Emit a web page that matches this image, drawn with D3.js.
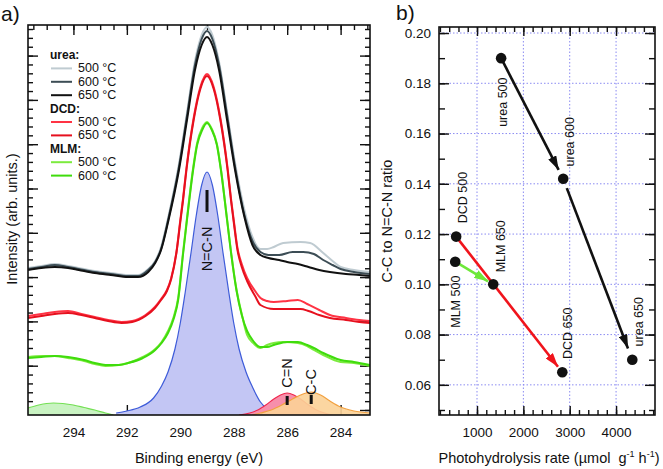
<!DOCTYPE html>
<html><head><meta charset="utf-8">
<script src="https://cdn.jsdelivr.net/npm/d3@7"></script>
<style>body{margin:0;background:#fff}svg{display:block}text{font-family:"Liberation Sans",Arial,Helvetica,sans-serif}</style>
</head><body><svg id="c" width="663" height="469"></svg>
<script>
// ---------- Panel a data : [binding energy (eV), intensity (arb.)] ----------
const energyTicks = [294, 292, 290, 288, 286, 284];
const urea500 = [[295.7,147],[295.2,149],[294.7,151],[294.2,149],[293.8,147],[293.2,144],[292.6,142],[291.95,140],[291.58,140],[291.2,146],[290.94,154],[290.72,168],[290.44,199],[290.05,251],[289.75,302],[289.45,354],[289.2,380],[289.0,388],[288.8,380],[288.55,353],[288.25,303],[287.95,252],[287.6,205],[287.3,178],[287.0,166],[286.75,166],[286.5,168],[286.15,172],[285.5,173],[285.14,172],[284.65,162],[284.3,154],[284.0,148],[283.5,145],[282.9,143]];
const urea600 = [[295.7,146],[295.2,148],[294.7,150],[294.2,148],[293.8,146],[293.2,143],[292.6,141],[291.95,139],[291.58,139],[291.2,145],[290.94,153],[290.72,166],[290.44,197],[290.05,248],[289.75,299],[289.45,350],[289.2,376],[289.0,384],[288.8,376],[288.55,350],[288.25,300],[287.95,248],[287.6,200],[287.3,174],[287.0,163],[286.7,160],[286.3,160],[285.8,163],[285.4,163],[285.0,161],[284.65,155],[284.3,150],[284.0,146],[283.5,143],[282.9,141]];
const urea650 = [[295.7,145],[295.2,147],[294.7,148],[294.2,147],[293.8,145],[293.2,142],[292.6,140],[291.95,138],[291.58,138],[291.2,143],[290.94,152],[290.72,165],[290.44,195],[290.05,245],[289.75,295],[289.45,345],[289.2,370],[289.0,378],[288.8,370],[288.55,345],[288.25,295],[287.95,245],[287.6,198],[287.3,170],[287.0,160],[286.7,157],[286.3,155],[286.0,153],[285.6,151],[285.2,148],[284.8,145],[284.4,143],[283.8,141],[283.3,140],[282.9,139]];
const dcd500 = [[295.7,99],[295.2,101],[294.7,103],[294.2,104],[293.7,101],[293.2,98],[292.7,95],[292.2,93],[291.8,94],[291.3,100],[290.95,108],[290.72,116],[290.5,125],[290.34,137],[290.14,164],[290.0,195],[289.9,216],[289.77,247],[289.5,297],[289.25,328],[289.0,341],[288.75,328],[288.5,297],[288.23,247],[288.1,216],[288.0,195],[287.86,167],[287.7,151],[287.5,137],[287.2,124],[287.0,117],[286.75,114],[286.5,113],[286.0,114],[285.6,115],[285.25,111],[284.8,105],[284.4,100],[283.8,97],[283.3,95],[282.9,94]];
const dcd650 = [[295.7,97],[295.2,99],[294.7,101],[294.2,102],[293.7,100],[293.2,97],[292.7,94],[292.2,92],[291.8,93],[291.3,99],[290.95,107],[290.72,115],[290.5,124],[290.34,136],[290.14,163],[290.0,193],[289.9,214],[289.77,245],[289.5,295],[289.25,326],[289.0,339],[288.75,326],[288.5,295],[288.23,245],[288.1,214],[288.0,193],[287.86,165],[287.7,148],[287.5,134],[287.2,119],[287.0,110],[286.5,106],[286.0,106],[285.5,106],[285.2,104],[284.8,100],[284.4,97],[283.8,95],[283.3,93],[282.9,92]];
const mlm500 = [[295.7,58],[295.2,59],[294.7,59],[294.2,57],[293.6,54],[293.2,51],[292.8,49],[292.3,50],[291.95,52],[291.4,58],[290.94,66],[290.7,73],[290.46,84],[290.25,98],[290.08,117],[289.9,162],[289.75,197],[289.52,247],[289.37,272],[289.18,287],[289.0,293],[288.82,286],[288.63,271],[288.48,246],[288.25,196],[288.1,163],[287.9,126],[287.7,101],[287.5,80],[287.27,72],[287.0,67],[286.75,70],[286.5,72],[286.15,73],[285.6,72],[285.25,69],[285.0,65],[284.65,60],[284.0,53],[283.5,52],[282.9,49]];
const mlm600 = [[295.7,57],[295.2,58],[294.7,59],[294.2,58],[293.6,55],[293.2,52],[292.8,50],[292.3,50],[291.95,52],[291.4,57],[290.94,65],[290.7,72],[290.46,82],[290.25,96],[290.08,115],[289.9,160],[289.75,195],[289.52,245],[289.37,270],[289.18,285],[289.0,292],[288.82,285],[288.63,270],[288.48,245],[288.25,195],[288.1,162],[287.9,125],[287.7,100],[287.5,84],[287.27,74],[287.0,68],[286.75,68],[286.5,70],[286.0,73],[285.6,73],[285.25,70],[285.0,67],[284.65,62],[284.0,55],[283.5,53],[282.9,50]];
// fit components
const fitNCN = [[292.4,2],[292.0,4],[291.5,8],[291.0,17],[290.7,29],[290.46,43],[290.2,66],[290.0,92],[289.82,122],[289.6,162],[289.4,200],[289.2,230],[289.0,243],[288.8,230],[288.6,200],[288.4,162],[288.18,122],[288.0,92],[287.8,66],[287.54,43],[287.3,28],[287.0,13],[286.7,5],[286.5,1]];
const fitCN = [[287.8,0],[287.4,2],[287.1,5],[286.8,10],[286.5,16],[286.25,20],[286.0,22],[285.75,20],[285.5,16],[285.2,10],[284.9,5],[284.6,2],[284.3,0]];
const fitCC = [[287.3,0],[287.0,2],[286.6,5],[286.2,10],[285.8,16],[285.5,20],[285.1,23],[284.75,20],[284.4,14],[284.0,8],[283.5,4],[282.9,2]];
const fitSat = [[295.7,7],[295.3,10],[295.0,11.5],[294.75,12],[294.4,11.5],[294.0,10],[293.6,7.5],[293.2,5],[292.8,2],[292.5,0]];
const peakNames = ["N=C-N", "C=N", "C-C"];
const peakPos = [289.0, 286.0, 285.1];
const peakHeight = [243, 22, 23];

// ---------- Panel b data ----------
const sampleNames = ["urea 500","urea 600","urea 650","DCD 500","DCD 650","MLM 500","MLM 650"];
const rates = [1520, 2860, 4350, 550, 2840, 530, 1350];
const ratios = [0.190, 0.142, 0.070, 0.119, 0.065, 0.109, 0.100];
const rateTicks = [1000, 2000, 3000, 4000];
const ratioTicks = [0.06, 0.08, 0.10, 0.12, 0.14, 0.16, 0.18, 0.20];
const arrowFrom = [0, 1, 3, 5];
const arrowTo = [1, 2, 4, 6];

const svg = d3.select("#c");
const defs = svg.append("defs");

// ================= PANEL A =================
const A = {l:28, r:370, t:25, b:415};
const xA = d3.scaleLinear().domain([295.7, 282.9]).range([A.l, A.r]);
const yA = d3.scaleLinear().domain([0, 390]).range([A.b, A.t]);
defs.append("clipPath").attr("id","clipA").append("rect")
  .attr("x",A.l).attr("y",A.t).attr("width",A.r-A.l).attr("height",A.b-A.t);
const gA = svg.append("g");

// ticks (inward)
const minorE = d3.range(283, 296, 0.5).filter(v => v > 282.9 && v < 295.7);
gA.append("g").attr("transform",`translate(0,${A.t})`)
  .call(d3.axisTop(xA).tickValues(minorE).tickSize(-5).tickFormat(""))
  .call(g=>g.select(".domain").remove());
gA.append("g").attr("transform",`translate(0,${A.t})`)
  .call(d3.axisTop(xA).tickValues(energyTicks).tickSize(-10).tickFormat(""))
  .call(g=>g.select(".domain").remove());
gA.append("g").attr("transform",`translate(0,${A.b})`)
  .call(d3.axisBottom(xA).tickValues(energyTicks).tickSize(-10).tickPadding(12).tickFormat(d3.format("d")))
  .call(g=>g.select(".domain").remove())
  .call(g=>g.selectAll("text").attr("font-size",13.5).attr("fill","#111").style("font-family",'"Liberation Sans",Arial,sans-serif'));
const yMinor = d3.range(5, 390, 8.86);
const yMajor = d3.range(5, 390, 44.3);
[[d3.axisLeft, A.l], [d3.axisRight, A.r]].forEach(([fn, xx]) => {
  gA.append("g").attr("transform",`translate(${xx},0)`)
    .call(fn(yA).tickValues(yMinor).tickSize(-5).tickFormat("")).call(g=>g.select(".domain").remove());
  gA.append("g").attr("transform",`translate(${xx},0)`)
    .call(fn(yA).tickValues(yMajor).tickSize(-10).tickFormat("")).call(g=>g.select(".domain").remove());
});
gA.selectAll(".tick line").attr("stroke","#111").attr("stroke-width",1.4);

const plotA = gA.append("g").attr("clip-path","url(#clipA)");
const area = d3.area().x(d=>xA(d[0])).y0(yA(0)).y1(d=>yA(d[1])).curve(d3.curveMonotoneX);
const line = d3.line().x(d=>xA(d[0])).y(d=>yA(d[1])).curve(d3.curveMonotoneX);

const fits = [
  {d: fitSat, fill:"#c9f3c2", stroke:"#74e054"},
  {d: fitNCN, fill:"#c3c6f4", stroke:"#3d5bd9"},
  {d: fitCN,  fill:"#f78fab", stroke:"#f0284e"},
  {d: fitCC,  fill:"#fbd197", stroke:"#f2a140", op:0.9}
];
fits.forEach(f => {
  plotA.append("path").datum(f.d).attr("d",area).attr("fill",f.fill).attr("fill-opacity",f.op||1);
  plotA.append("path").datum(f.d).attr("d",line).attr("fill","none").attr("stroke",f.stroke).attr("stroke-width",1.2);
});
// peak markers + labels
peakPos.forEach((p,i) => {
  const yTop = i===0 ? yA(peakHeight[i]) + 18 : yA(peakHeight[i]) + 3;
  const len = i===0 ? 22 : 9;
  plotA.append("line").attr("x1",xA(p)).attr("x2",xA(p)).attr("y1",yTop).attr("y2",yTop+len)
    .attr("stroke","#111").attr("stroke-width",3);
});
const lblY = [249, 373, 382];
peakNames.forEach((n,i) => {
  gA.append("text").attr("transform",`translate(${xA(peakPos[i])},${lblY[i]}) rotate(-90)`)
    .attr("text-anchor","middle").attr("dominant-baseline","central")
    .attr("font-size",14.5).attr("fill","#111").text(n);
});

const spectra = [
  {d: urea500, c:"#bfcbd1"},
  {d: urea600, c:"#3c4d55"},
  {d: urea650, c:"#111111"},
  {d: dcd500,  c:"#ff3344"},
  {d: dcd650,  c:"#e6101e"},
  {d: mlm500,  c:"#7ceb3e"},
  {d: mlm600,  c:"#3fdc0c"}
];
spectra.forEach(s => {
  plotA.append("path").datum(s.d).attr("d",line).attr("fill","none")
    .attr("stroke",s.c).attr("stroke-width",2).attr("stroke-linejoin","round");
});
gA.append("rect").attr("x",A.l).attr("y",A.t).attr("width",A.r-A.l).attr("height",A.b-A.t)
  .attr("fill","none").attr("stroke","#111").attr("stroke-width",1.6);

// legend
const legend = [
  {h:"urea:"},{t:"500 °C",c:"#bfcbd1"},{t:"600 °C",c:"#3c4d55"},{t:"650 °C",c:"#111"},
  {h:"DCD:"},{t:"500 °C",c:"#ff3344"},{t:"650 °C",c:"#e6101e"},
  {h:"MLM:"},{t:"500 °C",c:"#7ceb3e"},{t:"600 °C",c:"#3fdc0c"}
];
legend.forEach((e,i) => {
  const y = 55 + i*13.4;
  if (e.h) {
    gA.append("text").attr("x",50).attr("y",y).attr("dominant-baseline","central")
      .attr("font-size",12).attr("font-weight","bold").attr("fill","#111").text(e.h);
  } else {
    gA.append("line").attr("x1",51).attr("x2",72).attr("y1",y).attr("y2",y).attr("stroke",e.c).attr("stroke-width",2);
    gA.append("text").attr("x",78).attr("y",y).attr("dominant-baseline","central")
      .attr("font-size",12.5).attr("fill","#111").text(e.t);
  }
});
gA.append("text").attr("x",(A.l+A.r)/2 + 0).attr("y",463).attr("text-anchor","middle")
  .attr("font-size",14.5).attr("fill","#111").text("Binding energy (eV)");
gA.append("text").attr("transform",`translate(17,219) rotate(-90)`).attr("text-anchor","middle")
  .attr("font-size",14.5).attr("fill","#111").text("Intensity (arb. units.)");
svg.append("text").attr("x",1).attr("y",21).attr("font-size",21).attr("fill","#111").text("a)");

// ================= PANEL B =================
const B = {l:439, r:655, t:27, b:415};
const xB = d3.scaleLinear().domain([180, 4840]).range([B.l, B.r]);
const yB = d3.scaleLinear().domain([0.048, 0.2024]).range([B.b, B.t]);
const gB = svg.append("g");
// grid
gB.selectAll(".gx").data(rateTicks).join("line").attr("x1",d=>xB(d)).attr("x2",d=>xB(d))
  .attr("y1",B.t).attr("y2",B.b).attr("stroke","#8b8bf2").attr("stroke-width",1).attr("stroke-dasharray","1.5,2");
gB.selectAll(".gy").data(ratioTicks).join("line").attr("y1",d=>yB(d)).attr("y2",d=>yB(d))
  .attr("x1",B.l).attr("x2",B.r).attr("stroke","#8b8bf2").attr("stroke-width",1).attr("stroke-dasharray","1.5,2");
const rateMinor = d3.range(200, 4840, 200);
const ratioMinor = d3.range(0.05, 0.2024, 0.01);
const tickStyle = g => { g.select(".domain").remove(); g.selectAll(".tick line").attr("stroke","#111").attr("stroke-width",1.4); };
gB.append("g").attr("transform",`translate(0,${B.b})`).call(d3.axisBottom(xB).tickValues(rateMinor).tickSize(-5).tickFormat("")).call(tickStyle);
gB.append("g").attr("transform",`translate(0,${B.t})`).call(d3.axisTop(xB).tickValues(rateMinor).tickSize(-5).tickFormat("")).call(tickStyle);
gB.append("g").attr("transform",`translate(0,${B.t})`).call(d3.axisTop(xB).tickValues(rateTicks).tickSize(-9).tickFormat("")).call(tickStyle);
gB.append("g").attr("transform",`translate(0,${B.b})`)
  .call(d3.axisBottom(xB).tickValues(rateTicks).tickSize(-9).tickPadding(12).tickFormat(d3.format("d"))).call(tickStyle)
  .call(g=>g.selectAll("text").attr("font-size",13.5).attr("fill","#111").style("font-family",'"Liberation Sans",Arial,sans-serif'));
gB.append("g").attr("transform",`translate(${B.l},0)`).call(d3.axisLeft(yB).tickValues(ratioMinor).tickSize(-6).tickFormat("")).call(tickStyle);
gB.append("g").attr("transform",`translate(${B.r},0)`).call(d3.axisRight(yB).tickValues(ratioMinor).tickSize(-6).tickFormat("")).call(tickStyle);
gB.append("g").attr("transform",`translate(${B.r},0)`).call(d3.axisRight(yB).tickValues(ratioTicks).tickSize(-10).tickFormat("")).call(tickStyle);
gB.append("g").attr("transform",`translate(${B.l},0)`)
  .call(d3.axisLeft(yB).tickValues(ratioTicks).tickSize(-10).tickPadding(8).tickFormat(d3.format(".2f"))).call(tickStyle)
  .call(g=>g.selectAll("text").attr("font-size",13.5).attr("fill","#111").style("font-family",'"Liberation Sans",Arial,sans-serif'));

// arrows
const arrowColor = ["#111","#111","#f0141c","#6ee83a"];
const startGap = [0, 10, 0, 2];
const endGap = [10, 12, 7, 6];
arrowColor.forEach((c,i) => {
  defs.append("marker").attr("id","ah"+i).attr("viewBox","0 0 14 9").attr("refX",14).attr("refY",4.5)
    .attr("markerWidth",14).attr("markerHeight",9).attr("markerUnits","userSpaceOnUse").attr("orient","auto")
    .append("path").attr("d","M0,0 L14,4.5 L0,9 Z").attr("fill",c);
});
arrowFrom.forEach((f,i) => {
  const x1 = xB(rates[f]), y1 = yB(ratios[f]), x2 = xB(rates[arrowTo[i]]), y2 = yB(ratios[arrowTo[i]]);
  const L = Math.hypot(x2-x1, y2-y1), ux = (x2-x1)/L, uy = (y2-y1)/L;
  gB.append("line").attr("x1",x1+ux*startGap[i]).attr("y1",y1+uy*startGap[i])
    .attr("x2",x2-ux*endGap[i]).attr("y2",y2-uy*endGap[i])
    .attr("stroke",arrowColor[i]).attr("stroke-width",2.6).attr("marker-end",`url(#ah${i})`);
});
gB.selectAll(".pt").data(sampleNames).join("circle")
  .attr("cx",(d,i)=>xB(rates[i])).attr("cy",(d,i)=>yB(ratios[i])).attr("r",5.3).attr("fill","#111");
const lblDx = [2, 7, 7, 7, 6, 1, 8];
const lblDy = [44, -37, -38, -39, -39, 40, -38];
sampleNames.forEach((n,i) => {
  gB.append("text").attr("transform",`translate(${xB(rates[i])+lblDx[i]},${yB(ratios[i])+lblDy[i]}) rotate(-90)`)
    .attr("text-anchor","middle").attr("dominant-baseline","central")
    .attr("font-size",12.5).attr("fill","#111").text(n);
});
gB.append("rect").attr("x",B.l).attr("y",B.t).attr("width",B.r-B.l).attr("height",B.b-B.t)
  .attr("fill","none").attr("stroke","#111").attr("stroke-width",1.6);
gB.append("text").attr("transform",`translate(392,221) rotate(-90)`).attr("text-anchor","middle")
  .attr("font-size",14.5).attr("fill","#111").text("C-C to N=C-N ratio");
const xt = gB.append("text").attr("x",549).attr("y",463).attr("text-anchor","middle").attr("font-size",14.5).attr("fill","#111");
xt.append("tspan").text("Photohydrolysis rate (\u00b5mol\u00a0 g");
xt.append("tspan").attr("font-size",9).attr("dy",-6).text("-1");
xt.append("tspan").attr("dy",6).text(" h");
xt.append("tspan").attr("font-size",9).attr("dy",-6).text("-1");
xt.append("tspan").attr("dy",6).text(")");
svg.append("text").attr("x",396).attr("y",20).attr("font-size",21).attr("fill","#111").text("b)");
</script></body></html>
